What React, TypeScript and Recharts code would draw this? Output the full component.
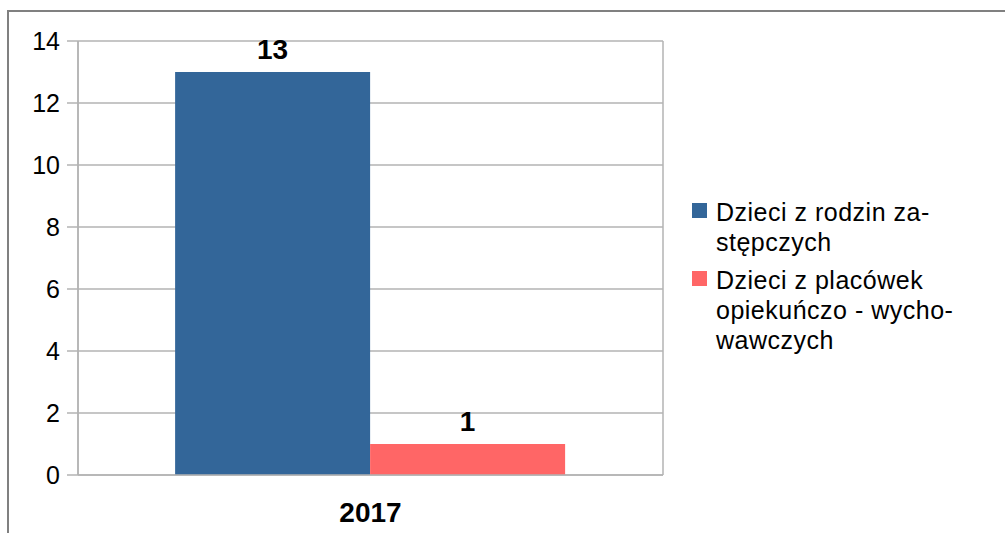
import React from "react";
import { Bar, BarChart, CartesianGrid, LabelList, Legend, XAxis, YAxis } from "recharts";

const years = ["2017"];
const fosterFamilies = [13];
const careInstitutions = [1];
const seriesNames = ["Dzieci z rodzin zastępczych", "Dzieci z placówek opiekuńczo - wychowawczych"];
const legendLines = [
  ["Dzieci z rodzin za-", "stępczych"],
  ["Dzieci z placówek", "opiekuńczo - wycho-", "wawczych"],
];
const yTicks = [0, 2, 4, 6, 8, 10, 12, 14];
const seriesColors = ["#336699", "#ff6666"];

const data = years.map((year, i) => ({
  year,
  foster: fosterFamilies[i],
  institutions: careInstitutions[i],
}));

const font = "'Liberation Sans', Arial, sans-serif";
const gridColor = "#b3b3b3";

function renderLegend() {
  return (
    <div style={{ fontFamily: font, fontSize: 25, letterSpacing: 0.5, lineHeight: "30px", color: "#000" }}>
      {legendLines.map((lines, i) => (
        <div key={seriesNames[i]} style={{ display: "flex", marginBottom: 8 }}>
          <span
            style={{ width: 15, height: 15, marginTop: 6, marginRight: 9, flexShrink: 0, backgroundColor: seriesColors[i] }}
          />
          <div>
            {lines.map((line) => (
              <div key={line} style={{ whiteSpace: "nowrap" }}>{line}</div>
            ))}
          </div>
        </div>
      ))}
    </div>
  );
}

export default function App() {
  return (
    <div style={{ position: "absolute", left: 0, top: 0, width: 1005, height: 533, background: "#fff", overflow: "hidden" }}>
      <div
        style={{
          position: "absolute",
          left: 7,
          top: 10,
          width: 1100,
          height: 600,
          borderLeft: "2px solid #808080",
          borderTop: "2px solid #808080",
        }}
      />
      <BarChart
        width={1005}
        height={533}
        data={data}
        margin={{ top: 41, right: 342, bottom: 0, left: 0 }}
        barCategoryGap="16.6%"
        barGap={0}
        style={{ position: "absolute", left: 0, top: 0 }}
      >
        {/* number axis 0..1 spanning the plot, used for the edge grid lines */}
        <CartesianGrid xAxisId={0} stroke={gridColor} strokeWidth={1.5} />
        <XAxis
          xAxisId={0}
          type="number"
          domain={[0, 1]}
          ticks={[0, 1]}
          tick={false}
          tickSize={11}
          tickLine={{ stroke: gridColor, strokeWidth: 1.5 }}
          axisLine={{ stroke: gridColor, strokeWidth: 1.5 }}
          height={1}
        />
        <XAxis
          xAxisId="main"
          dataKey="year"
          tickLine={false}
          axisLine={false}
          tickMargin={20}
          height={57}
          tick={{ fontSize: 28, fontWeight: "bold", fill: "#000", fontFamily: font }}
        />
        <YAxis
          width={78}
          domain={[0, 14]}
          ticks={yTicks}
          interval={0}
          tickSize={11}
          tickMargin={7}
          tickLine={{ stroke: gridColor, strokeWidth: 1.5 }}
          axisLine={{ stroke: gridColor, strokeWidth: 1.5 }}
          tick={{ fontSize: 25, fill: "#000", fontFamily: font }}
        />
        <Legend
          layout="vertical"
          align="center"
          verticalAlign="middle"
          content={renderLegend}
          wrapperStyle={{ left: 692, top: 197, width: 300 }}
        />
        <Bar xAxisId="main" dataKey="foster" name={seriesNames[0]} fill={seriesColors[0]} isAnimationActive={false}>
          <LabelList dataKey="foster" position="top" offset={13} fill="#000" fontSize={28} fontWeight="bold" fontFamily={font} />
        </Bar>
        <Bar xAxisId="main" dataKey="institutions" name={seriesNames[1]} fill={seriesColors[1]} isAnimationActive={false}>
          <LabelList dataKey="institutions" position="top" offset={13} fill="#000" fontSize={28} fontWeight="bold" fontFamily={font} />
        </Bar>
      </BarChart>
    </div>
  );
}
